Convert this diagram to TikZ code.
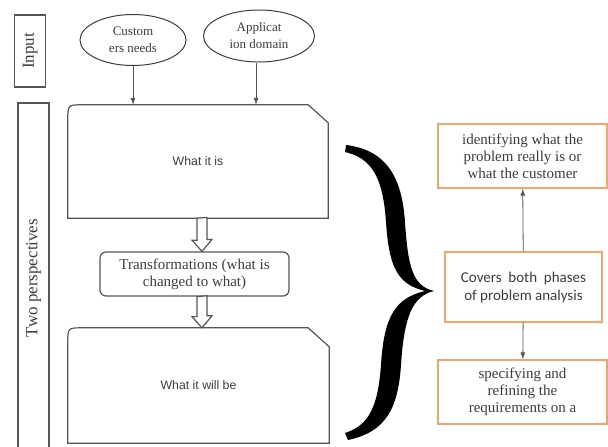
\documentclass[tikz,border=0pt]{standalone}
\usepackage{fontspec}
\setmainfont{Liberation Serif}
\setsansfont{Liberation Sans}
\newfontfamily\calibrifont{Carlito}
\usetikzlibrary{arrows.meta,shapes.geometric}

\definecolor{boxgray}{RGB}{85,85,85}
\definecolor{boxorange}{RGB}{240,165,105}
\definecolor{textgray}{RGB}{60,60,60}

\begin{document}
\begin{tikzpicture}[x=1pt, y=-1pt,
  sidebox/.style={draw=boxgray, line width=1.3pt, rotate=90, inner sep=0pt, minimum height=31, font=\fontsize{17}{19}\selectfont, text=textgray},
  inputoval/.style={draw=boxgray!70!black, ellipse, line width=1pt, inner sep=0pt, align=center, font=\fontsize{13}{17}\selectfont, text=textgray},
  bigbox/.style={inner sep=0pt, font=\sffamily\fontsize{12.3}{14}\selectfont, text=textgray},
  boxline/.style={draw=boxgray, line width=1.2pt},
  hollow/.style={draw=boxgray, line width=1.2pt, fill=white},
  orangebox/.style={draw=boxorange, line width=1.3pt, inner sep=0pt, align=center, font=\fontsize{15}{17}\selectfont, text=textgray},
  thinarrow/.style={draw=boxgray, line width=0.8pt, arrows={-{Latex[length=7pt,width=5pt]}}}]
\useasboundingbox (0,0) rectangle (608,447);

%side labels
\node[sidebox, minimum width=72] at (30,51) (input) {Input};
\node[sidebox, minimum width=350] at (33.5,278) (persp) {Two perspectives};

%inputs
\node[inputoval, minimum width=106, minimum height=51] at (133,40) (cust) {Custom\\ers needs};
\node[inputoval, minimum width=111, minimum height=52] at (259,36) (appl) {Applicat\\ion domain};

%the two states
\node[bigbox, minimum width=260, minimum height=113] at (198,161.5) (whatis) {What it is};
\node[bigbox, minimum width=261, minimum height=115] at (198.5,385.5) (willbe) {What it will be};
\draw[boxline] (whatis.south west) -- ([yshift=-15pt]whatis.north west)
  .. controls (whatis.north west) .. ([xshift=15pt]whatis.north west)
  -- ([xshift=-20pt]whatis.north east) -- ([yshift=-18pt]whatis.north east)
  -- (whatis.south east) -- cycle;
\draw[boxline] (willbe.south west) -- ([yshift=-15pt]willbe.north west)
  .. controls (willbe.north west) .. ([xshift=15pt]willbe.north west)
  -- ([xshift=-21pt]willbe.north east) -- ([yshift=-19pt]willbe.north east)
  -- (willbe.south east) -- cycle;

\node[boxline, rounded corners=6pt, minimum width=189, minimum height=44, inner sep=0pt, align=center,
  font=\fontsize{15}{17}\selectfont, text=textgray] at (194.5,274) (trans)
  {Transformations (what is\\changed to what)};

%input arrows
\draw[thinarrow] (cust) -- (cust |- whatis.north);
\draw[thinarrow] (appl.south -| 256,0) -- (256,0 |- whatis.north);

%hollow arrows
\coordinate (a1) at ([xshift=4pt]whatis.south);
\draw[hollow] (a1) ++(-5,0) -- ++(0,22) -- ++(-5,0) -- (a1 |- trans.north)
  -- ++(10,-12) -- ++(-5,0) -- ++(0,-22) -- cycle;
\coordinate (a2) at (a1 |- trans.south);
\draw[hollow] (a2) ++(-5,0) -- ++(0,20) -- ++(-5,0) -- (a2 |- willbe.north)
  -- ++(10,-12) -- ++(-5,0) -- ++(0,-20) -- cycle;

%big brace
\fill[black] (346,145) .. controls (387,150) and (402,178) .. (405,222)
  .. controls (408,268) and (413,286) .. (434,291)
  .. controls (412,296) and (404,318) .. (401,365)
  .. controls (398,410) and (385,432) .. (348,440)
  -- (345,433)
  .. controls (370,425) and (378,405) .. (381,365)
  .. controls (384,315) and (396,298) .. (425,291)
  .. controls (396,284) and (389,265) .. (386,222)
  .. controls (383,178) and (372,158) .. (345,152) -- cycle;

%phases of analysis
\node[orangebox, minimum width=169, minimum height=64] at (522.5,156) (ident)
  {identifying what the\\problem really is or\\what the customer};
\node[orangebox, minimum width=157, minimum height=70, font=\calibrifont\fontsize{15}{18}\selectfont] at (523.5,287) (covers)
  {Covers\ \ both\ \ phases\\of problem analysis};
\node[orangebox, minimum width=169, minimum height=64] at (522.5,392) (specif)
  {specifying and\\refining the\\requirements on a};

\draw[thinarrow] (covers) -- (ident);
\draw[thinarrow] (covers) -- (specif);

\end{tikzpicture}
\end{document}
